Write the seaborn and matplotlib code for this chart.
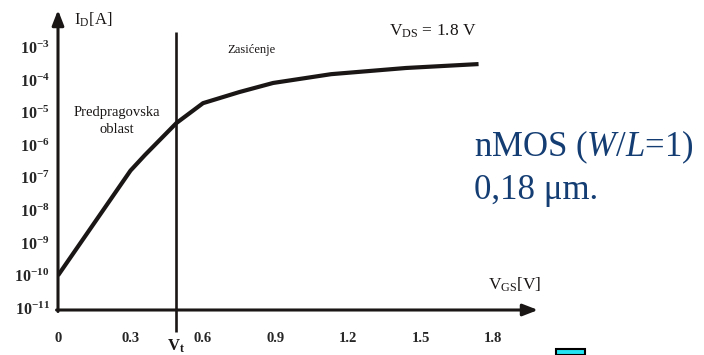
import numpy as np
import matplotlib
matplotlib.use("Agg")
import matplotlib.pyplot as plt
import pandas as pd
import seaborn as sns

# data (V_GS in volts, log10 of I_D in amperes)
vgs = [0.0, 0.30, 0.36, 0.49, 0.60, 0.75, 0.89, 1.13, 1.44, 1.74]
log_id = [-10.0, -6.78, -6.3, -5.32, -4.71, -4.37, -4.09, -3.82, -3.63, -3.51]
x_ticks = [0, 0.3, 0.6, 0.9, 1.2, 1.5, 1.8]
x_tick_labels = ["0", "0.3", "0.6", "0.9", "1.2", "1.5", "1.8"]
y_exponents = [-11, -10, -9, -8, -7, -6, -5, -4, -3]
v_t = 0.49

df = pd.DataFrame({"vgs": vgs, "id": [10.0 ** e for e in log_id]})

sns.set_style("white")
plt.rcParams["font.family"] = ["Liberation Serif", "DejaVu Serif"]
plt.rcParams["mathtext.fontset"] = "custom"
plt.rcParams["mathtext.rm"] = "Liberation Serif"
plt.rcParams["mathtext.it"] = "Liberation Serif:italic"
plt.rcParams["mathtext.bf"] = "Liberation Serif:bold"

fig = plt.figure(figsize=(7.04, 3.55), dpi=100)
ax = fig.add_axes([58 / 704, 45 / 355, 480 / 704, 300 / 355])
ink = "#1a1616"

sns.lineplot(data=df, x="vgs", y="id", ax=ax, color=ink, linewidth=3.0,
             solid_joinstyle="round", solid_capstyle="butt")
ax.set_yscale("log")
ax.set_xlim(0, 1.986)
ax.set_ylim(10 ** -11.06, 10 ** -1.85)

# threshold line (goes a little below the x axis)
ax.plot([v_t, v_t], [10 ** -2.53, 10 ** -11.74], color=ink, linewidth=1.9,
        clip_on=False, solid_capstyle="butt")

for s in ax.spines.values():
    s.set_visible(False)
# axes drawn as arrows
ax.annotate("", xy=(0, 1.0), xytext=(0, -0.005), xycoords="axes fraction",
            arrowprops=dict(arrowstyle="-|>,head_length=0.9,head_width=0.35",
                            color=ink, lw=2.2, shrinkA=0, shrinkB=0))
ax.annotate("", xy=(1.0, 0), xytext=(-0.003, 0), xycoords="axes fraction",
            arrowprops=dict(arrowstyle="-|>,head_length=0.9,head_width=0.35",
                            color=ink, lw=2.2, shrinkA=0, shrinkB=0))

ax.set_xticks(x_ticks)
ax.set_xticklabels(x_tick_labels, fontweight="bold", fontsize=10.5)
ax.set_yticks([10.0 ** e for e in y_exponents])
ax.set_yticklabels([r"$\mathbf{10^{%d}}$" % e for e in y_exponents], fontsize=11.5)
ax.minorticks_off()
ax.tick_params(axis="x", direction="out", length=5, width=1, color="#777777", pad=11)
ax.tick_params(axis="y", direction="out", length=2, width=1.5, color=ink, pad=4)
ax.set_xlabel("")
ax.set_ylabel("")

# labels
fig.text(74 / 704, 1 - 20 / 355, r"$\mathrm{I_D}$[A]", fontsize=12, va="center", color=ink)
ax.text(0.245, 10 ** -5.26, "Predpragovska\noblast", fontsize=10.5, ha="center",
        va="center", color=ink, linespacing=1.35)
ax.text(0.70, 10 ** -3.08, "Zasićenje", fontsize=9, ha="left", va="center", color=ink)
ax.text(1.37, 10 ** -2.5, r"$\mathrm{V_{DS}}$ = 1.8 V", fontsize=12.5, ha="left",
        va="center", color=ink)
ax.text(1.78, 10 ** -10.3, r"$\mathrm{V_{GS}}$[V]", fontsize=12.5, ha="left",
        va="center", color=ink)
fig.text(176 / 704, 1 - 346 / 355, r"$\mathbf{V_t}$", fontsize=12, ha="center",
         va="center", color=ink)

blue = "#143d73"
fig.text(474 / 704, 1 - 147 / 355, r"nMOS ($\mathit{W/L}$=1)", fontsize=25,
         ha="left", va="center", color=blue)
fig.text(474 / 704, 1 - 191 / 355, "0,18 μm.", fontsize=25, ha="left",
         va="center", color=blue)

# small cut-off icon at the bottom edge
fig.patches.append(plt.Rectangle((556 / 704, 0), 29 / 704, 6 / 355,
                                 transform=fig.transFigure, facecolor="#22e4f2",
                                 edgecolor="black", linewidth=1.5))

fig.savefig("out.png", dpi=100)
